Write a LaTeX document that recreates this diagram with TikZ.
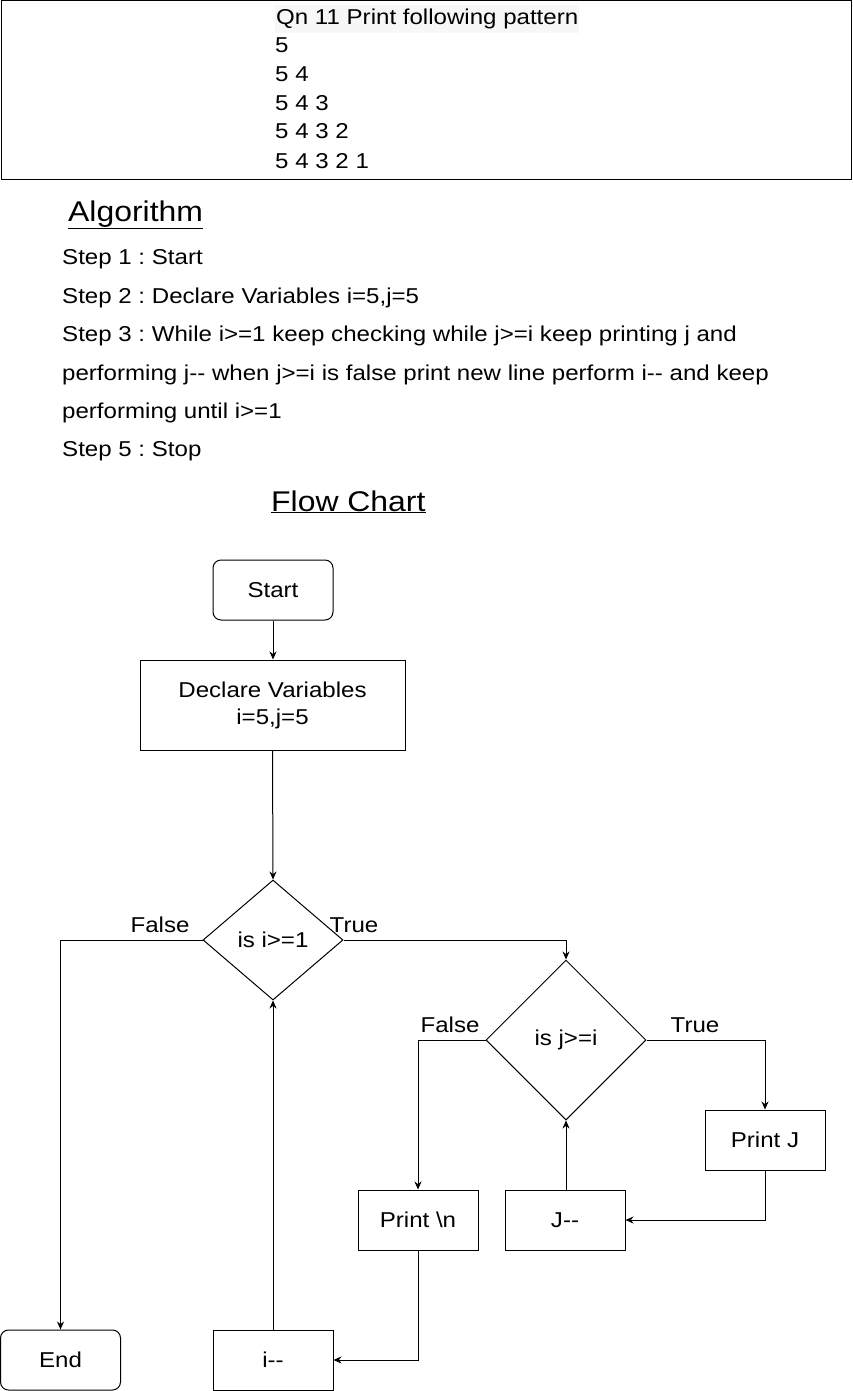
\documentclass[tikz,border=0pt]{standalone}
\usepackage{fontspec}
\setmainfont[FakeStretch=1.12]{Liberation Sans}
\usetikzlibrary{arrows.meta,shapes.geometric}
\begin{document}
\frenchspacing
\begin{tikzpicture}[x=1pt,y=-1pt,
  txt/.style={font=\fontsize{21.5}{25}\selectfont, inner sep=0pt},
  stepline/.style={txt, anchor=base west},
  big/.style={font=\fontsize{28.5}{34}\selectfont, inner sep=0pt},
  box/.style={draw, line width=1pt, minimum width=120pt, minimum height=60pt, inner sep=0pt, font=\fontsize{21.5}{25}\selectfont, align=center},
  rbox/.style={box, rounded corners=8pt},
  dec/.style={draw, line width=1pt, diamond, aspect=1, inner sep=0pt, font=\fontsize{21.5}{25}\selectfont},
  arr/.style={line width=1pt, -{Stealth[length=8pt,width=7pt]}},
  lbl/.style={font=\fontsize{21.5}{25}\selectfont, inner sep=0pt}
]
\useasboundingbox (0,0) rectangle (852,1391);

% question box
\node[draw, line width=1pt, minimum width=850pt, minimum height=179pt, anchor=north west, inner sep=0pt] (qbox) at (0.5,0.5) {};
\node[stepline, fill=black!3, inner ysep=4pt, inner xsep=1pt] (q0) at (275,25) {Qn 11 Print following pattern};
\node[stepline] (q1) at (275,53) {5};
\node[stepline] (q2) at (275,82) {5 4};
\node[stepline] (q3) at (275,111) {5 4 3};
\node[stepline] (q4) at (275,139) {5 4 3 2};
\node[stepline] (q5) at (275,168) {5 4 3 2 1};

% algorithm
\node[big, anchor=base west] (alg) at (68,221) {\underline{Algorithm}};
\node[stepline] (s1) at (62,264) {Step 1 : Start};
\node[stepline] (s2) at (62,303) {Step 2 : Declare Variables i=5,j=5};
\node[stepline] (s3) at (62,341) {Step 3 : While i>=1 keep checking while j>=i keep printing j and};
\node[stepline] (s3b) at (62,380) {performing j-{}- when j>=i is false print new line perform i-{}- and keep};
\node[stepline] (s3c) at (62,418) {performing until i>=1};
\node[stepline] (s5) at (62,456) {Step 5 : Stop};

\node[big, anchor=base west] (fc) at (271,511) {\underline{Flow Chart}};

% flow chart
\node[rbox] (start) at (273,590) {Start};
\node[box, minimum width=265pt, minimum height=90pt] (decl) at (272.5,705) {Declare Variables\\[2pt]i=5,j=5};
\node[dec, minimum width=140pt, minimum height=120pt] (d1) at (273,940) {is i>=1};
\node[dec, minimum width=160pt, minimum height=160pt] (d2) at (566,1040) {is j>=i};
\node[box] (pj) at (765,1140) {Print J};
\node[box] (jm) at (565,1220) {J-{}-};
\node[box] (pn) at (418,1220) {Print \textbackslash n};
\node[rbox] (end) at (60.5,1360) {End};
\node[box] (im) at (273,1360) {i-{}-};

\node[lbl] (lf1) at (160,925) {False};
\node[lbl] (lt1) at (354,925) {True};
\node[lbl] (lf2) at (450,1025) {False};
\node[lbl] (lt2) at (695,1025) {True};

\draw[arr] (start.south) -- (start.south |- decl.north);
\draw[arr] (decl.south) -- (d1.north);
\draw[arr] (d1.west) -| (end.north);
\draw[arr] (d1.east) -| (d2.north);
\draw[arr] (d2.west) -| (pn.north);
\draw[arr] (d2.east) -| (pj.north);
\draw[arr] (pj.south) |- (jm.east);
\draw[arr] (jm.north -| d2.south) -- (d2.south);
\draw[arr] (pn.south) |- (im.east);
\draw[arr] (im.north) -- (d1.south);
\end{tikzpicture}
\end{document}
